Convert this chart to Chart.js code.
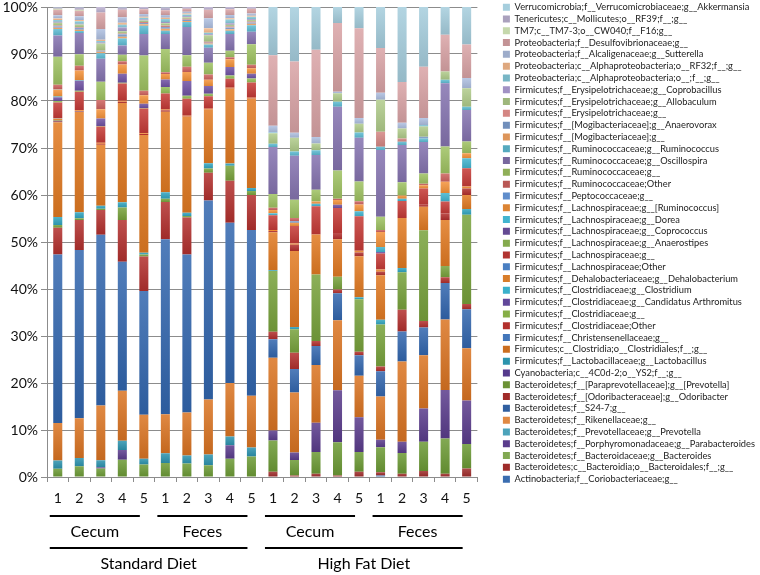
<!DOCTYPE html>
<html>
<head>
<meta charset="utf-8">
<script src="https://cdn.jsdelivr.net/npm/chart.js@4.4.1/dist/chart.umd.min.js"></script>
<style>
  html, body { margin: 0; padding: 0; background: #fff; }
</style>
</head>
<body>
<canvas id="taxaChart" width="760" height="575"></canvas>
<script>
document.addEventListener('DOMContentLoaded', () => {

  // samples on the x axis, and the two grouping rows under them
  const samples = ['1','2','3','4','5','1','2','3','4','5','1','2','3','4','5','1','2','3','4','5'];
  const sites = ['Cecum', 'Feces', 'Cecum', 'Feces'];
  const diets = ['Standard Diet', 'High Fat Diet'];

  // relative abundance (%) per sample, bottom of the stack first
  const coriobacteriaceae   = [0,0,0,0,0, 0,0,0,0,0, 0,0,0,0,0, 0.3,0,0,0,0];
  const bacteroidales       = [0,0,0,0,0, 0,0,0,0,0, 1.1,0.3,0.7,0.3,1.1, 0.7,0.7,1.3,0.7,1.8];
  const bacteroides         = [1.8,2.3,1.8,3.7,2.7, 3.0,2.9,2.5,3.9,4.4, 6.6,3.3,4.6,7.1,4.2, 5.3,4.4,6.2,7.5,5.2];
  const parabacteroides     = [0,0,0.3,2.1,0, 0,0,0,2.9,0, 2.1,1.6,6.2,11.0,7.4, 1.6,2.4,7.1,10.3,9.3];
  const prevotella          = [1.8,1.8,1.5,2.0,1.2, 2.1,1.7,2.3,1.9,1.9, 0,0,0,0,0, 0,0,0,0,0];
  const rikenellaceae       = [8.1,8.6,11.7,10.8,9.4, 8.4,9.2,11.7,11.5,11.1, 15.4,12.8,12.3,14.9,8.8, 9.2,17.0,11.3,15.0,11.1];
  const s24_7               = [36.6,36.3,36.6,27.8,26.5, 37.6,33.8,42.4,34.4,35.5, 3.9,5.0,4.0,5.7,4.4, 5.4,6.4,5.9,7.8,8.3];
  const odoribacter         = [5.8,6.5,5.3,9.0,7.4, 8.0,7.9,5.9,9.0,7.5, 1.6,3.5,1.1,0.8,0.7, 1.0,4.6,1.4,1.2,1.1];
  const paraprevotella      = [0.6,0.4,0.3,2.7,0.4, 0.7,0.3,0.9,3.2,0.9, 12.8,5.0,14.1,2.7,11.2, 8.9,8.0,19.3,2.4,19.0];
  const cyanobacteria       = [0,0,0,0,0, 0,0,0,0,0, 0,0,0,0,0, 0,0,0,0,0];
  const lactobacillus       = [1.7,1.3,0.6,1.1,0.4, 1.4,0.7,1.1,0.5,0.6, 0.2,0.5,0,0,0.4, 1.0,0.9,0,0,1.2];
  const clostridiales       = [20.6,21.6,13.1,21.4,25.2, 17.3,20.6,11.5,16.1,19.2, 8.0,16.2,8.5,8.0,8.7, 9.5,10.6,5.0,9.8,3.0];
  const christensenellaceae = [0.1,0.1,0,0,0, 0,0,0,0,0, 0,0,0,0,0, 0,0,0,0,0];
  const clostridiaceaeOther = [0.2,0.1,0.2,0.3,0.2, 0.3,0.2,0.2,0.2,0.2, 0.3,1.3,0,1.3,0.8, 0.7,0,0.4,1.4,1.4];
  const clostridiaceaeG     = [0.1,0,0,0,0, 0,0,0,0,0, 0,0,0,0,0, 0,0,0,0,0];
  const arthromitus         = [0,0,0,0,0, 0,0,0,0,0, 0,0,0,0,0, 0,0,0,0,0];
  const clostridium         = [0.1,0,0,0,0, 0,0,0,0,0, 0,0,0,0,0, 0,0,0,0,0];
  const dehalobacterium     = [0.3,0.2,0.2,0.2,0.2, 0.2,0.1,0.1,0.1,0.1, 0.2,0.3,0,0,0.4, 0.5,0,0,0,0.4];
  const lachnoOther         = [0.1,0,0,0,0, 0,0,0,0,0, 0,0,0,0,0, 0,0,0,0,0];
  const lachnoG             = [3.4,4.0,3.5,3.7,5.3, 3.4,3.5,2.5,1.8,3.1, 3.1,3.7,6.0,5.3,7.3, 3.4,3.6,3.5,2.5,3.9];
  const anaerostipes        = [0.3,0.2,0.1,0.2,0.1, 1.4,0.6,0.5,0.7,0.9, 0,0,0,0,0, 0,0,0,0,0];
  const coprococcus         = [0.8,2.2,1.6,1.9,0.9, 1.6,3.2,1.7,1.8,1.0, 0,0,0,0.7,0, 0.3,0,0,0,0];
  const dorea               = [0.2,0.1,0,0,0, 0,0,0,0,0, 0.4,0,0.5,0,1.1, 1.1,0.5,0,1.8,2.1];
  const lachnoRuminococcus  = [1.5,2.1,2.0,2.0,1.8, 1.2,1.9,1.3,1.7,1.2, 0.7,0.7,0.5,1.0,1.4, 3.2,0.7,0.7,2.4,1.1];
  const peptococcaceae      = [0.1,0,0,0,0, 0,0,0,0,0, 0,0.3,0,0,0, 0,0,0,0,0];
  const ruminoOther         = [0.9,1.0,2.0,0.7,1.0, 0.4,1.1,1.1,0.4,0.7, 0.5,0.7,0,0.3,0.7, 0.4,0,0.3,1.8,0];
  const ruminoG             = [6.1,2.5,3.9,1.4,7.5, 5.0,2.5,2.5,1.4,4.4, 2.9,3.9,2.5,6.0,4.2, 2.8,2.8,2.2,5.7,2.5];
  const oscillospira        = [4.6,4.6,4.9,2.0,4.6, 3.2,6.0,3.2,3.6,2.7, 9.9,9.4,7.4,13.5,9.3, 14.2,7.9,6.7,13.5,6.7];
  const ruminococcus        = [1.4,0.4,1.2,1.5,1.8, 0.7,1.1,0.7,0.7,1.4, 0.7,0.9,1.0,1.1,1.1, 0.7,0.7,0.7,0.7,0.7];
  const mogibacteriaceaeG   = [0.3,0.3,0.3,0.4,0.3, 0.4,0.2,0.2,0.3,0.3, 0,0,0,0,0, 0,0,0,0,0];
  const anaerovorax         = [0.3,0.4,0.2,0.5,0.3, 0.4,0.3,0.2,0.4,0.3, 0,0,0,0,0, 0,0,0.4,0,0];
  const erysipelotrichaceaeG= [0.2,0.2,0.1,0.2,0.2, 0.3,0.2,0.2,0.2,0.2, 0,0,0,0,0, 3.2,0.7,0,0,0];
  const allobaculum         = [0.6,0.5,1.5,0.5,0.3, 0.5,0.3,1.4,0.4,0.3, 2.2,2.9,1.4,1.8,1.9, 6.8,2.1,2.2,1.8,3.9];
  const coprobacillus       = [0.2,0.2,0.2,0.8,0.2, 0.3,0.2,0.2,0.3,0.2, 0,0,0,0,0, 0,0,0,0,0];
  const alphaproteo         = [0.4,0.5,0.3,0.6,0.4, 0.6,0.4,0.3,0.8,0.5, 0.2,0,0,0,0, 0,0,0.3,0,0];
  const rf32                = [0.3,0.3,0.3,0.4,0.2, 0.3,0.2,1.0,0.3,0.2, 0,0,0,0,0, 0,0,0,0,0];
  const sutterella          = [0.7,0.8,2.3,1.2,0.6, 0.6,0.4,2.1,0.7,0.5, 1.4,1.1,1.4,0.3,1.2, 1.5,1.2,1.5,0,2.2];
  const desulfovibrionaceae = [1.2,1.2,3.5,1.6,1.0, 1.0,0.6,1.8,1.2,1.0, 14.9,15.2,18.5,14.6,19.1, 9.5,8.7,10.9,7.8,7.1];
  const tm7                 = [0.2,0.2,0,0,0, 0,0,0,0,0, 0,0,0,0,0, 0,0,0,0,0];
  const tenericutes         = [0.3,0.5,1.2,0.5,0.5, 0.6,0.4,0.6,0.5,0.4, 0,0,0,0,0, 0,0,0,0,0];
  const akkermansia         = [0.1,0.1,0,0.1,0, 0.1,0,0,0,0, 10.2,11.6,9.1,3.4,4.5, 8.7,15.9,12.7,5.9,8.0];

  const taxa = [
    'Actinobacteria;f__Coriobacteriaceae;g__',
    'Bacteroidetes;c__Bacteroidia;o__Bacteroidales;f__;g__',
    'Bacteroidetes;f__Bacteroidaceae;g__Bacteroides',
    'Bacteroidetes;f__Porphyromonadaceae;g__Parabacteroides',
    'Bacteroidetes;f__Prevotellaceae;g__Prevotella',
    'Bacteroidetes;f__Rikenellaceae;g__',
    'Bacteroidetes;f__S24-7;g__',
    'Bacteroidetes;f__[Odoribacteraceae];g__Odoribacter',
    'Bacteroidetes;f__[Paraprevotellaceae];g__[Prevotella]',
    'Cyanobacteria;c__4C0d-2;o__YS2;f__;g__',
    'Firmicutes;f__Lactobacillaceae;g__Lactobacillus',
    'Firmicutes;c__Clostridia;o__Clostridiales;f__;g__',
    'Firmicutes;f__Christensenellaceae;g__',
    'Firmicutes;f__Clostridiaceae;Other',
    'Firmicutes;f__Clostridiaceae;g__',
    'Firmicutes;f__Clostridiaceae;g__Candidatus Arthromitus',
    'Firmicutes;f__Clostridiaceae;g__Clostridium',
    'Firmicutes;f__Dehalobacteriaceae;g__Dehalobacterium',
    'Firmicutes;f__Lachnospiraceae;Other',
    'Firmicutes;f__Lachnospiraceae;g__',
    'Firmicutes;f__Lachnospiraceae;g__Anaerostipes',
    'Firmicutes;f__Lachnospiraceae;g__Coprococcus',
    'Firmicutes;f__Lachnospiraceae;g__Dorea',
    'Firmicutes;f__Lachnospiraceae;g__[Ruminococcus]',
    'Firmicutes;f__Peptococcaceae;g__',
    'Firmicutes;f__Ruminococcaceae;Other',
    'Firmicutes;f__Ruminococcaceae;g__',
    'Firmicutes;f__Ruminococcaceae;g__Oscillospira',
    'Firmicutes;f__Ruminococcaceae;g__Ruminococcus',
    'Firmicutes;f__[Mogibacteriaceae];g__',
    'Firmicutes;f__[Mogibacteriaceae];g__Anaerovorax',
    'Firmicutes;f__Erysipelotrichaceae;g__',
    'Firmicutes;f__Erysipelotrichaceae;g__Allobaculum',
    'Firmicutes;f__Erysipelotrichaceae;g__Coprobacillus',
    'Proteobacteria;c__Alphaproteobacteria;o__;f__;g__',
    'Proteobacteria;c__Alphaproteobacteria;o__RF32;f__;g__',
    'Proteobacteria;f__Alcaligenaceae;g__Sutterella',
    'Proteobacteria;f__Desulfovibrionaceae;g__',
    'TM7;c__TM7-3;o__CW040;f__F16;g__',
    'Tenericutes;c__Mollicutes;o__RF39;f__;g__',
    'Verrucomicrobia;f__Verrucomicrobiaceae;g__Akkermansia'
  ];

  const series = [
    coriobacteriaceae, bacteroidales, bacteroides, parabacteroides, prevotella,
    rikenellaceae, s24_7, odoribacter, paraprevotella, cyanobacteria,
    lactobacillus, clostridiales, christensenellaceae, clostridiaceaeOther, clostridiaceaeG,
    arthromitus, clostridium, dehalobacterium, lachnoOther, lachnoG,
    anaerostipes, coprococcus, dorea, lachnoRuminococcus, peptococcaceae,
    ruminoOther, ruminoG, oscillospira, ruminococcus, mogibacteriaceaeG,
    anaerovorax, erysipelotrichaceaeG, allobaculum, coprobacillus, alphaproteo,
    rf32, sutterella, desulfovibrionaceae, tm7, tenericutes, akkermansia
  ];

  const colors = [
    '#3a6db0', '#9e2b2a', '#6c9a35', '#5a3c8c', '#2c93ae',
    '#da7422', '#3266ae', '#b2302e', '#78a23c', '#553a8c',
    '#31a4c0', '#e27a22', '#4376ba', '#b3302d', '#86ae46',
    '#61479a', '#3ab0cb', '#f08b30', '#4a7fc2', '#c53a36',
    '#93bd55', '#6f52a3', '#42b4cf', '#f4933a', '#5f8dcb',
    '#cd625e', '#9fc262', '#8573b0', '#5ebcd3', '#f6a564',
    '#7e9fd0', '#d48683', '#b0cb8a', '#a192c4', '#85cadb',
    '#f7bb8d', '#aebfe0', '#d9a3a5', '#c5d8ac', '#bdb3d2',
    '#a6cedd'
  ];

  // 100% stacked: each sample scaled to its own total
  const totals = samples.map((_, i) => series.reduce((s, arr) => s + arr[i], 0));
  const shares = series.map(arr => arr.map((v, i) => v / totals[i] * 100));

  function shade(hex, amt) {
    const n = parseInt(hex.slice(1), 16);
    const mix = c => Math.round(amt >= 0 ? c + (255 - c) * amt : c * (1 + amt));
    return `rgb(${mix(n >> 16)},${mix((n >> 8) & 255)},${mix(n & 255)})`;
  }

  // each segment lighter at its top, darker at its base
  function segmentFill(ctx) {
    const base = colors[ctx.datasetIndex];
    if (ctx.type !== 'data') return base;
    const y = ctx.chart.scales.y;
    const i = ctx.dataIndex;
    let bottom = 0;
    for (let d = 0; d < ctx.datasetIndex; d++) bottom += shares[d][i];
    const top = bottom + shares[ctx.datasetIndex][i];
    const y0 = y.getPixelForValue(top), y1 = y.getPixelForValue(bottom);
    if (!isFinite(y0) || !isFinite(y1) || y1 - y0 < 1) return base;
    const g = ctx.chart.ctx.createLinearGradient(0, y0, 0, y1);
    g.addColorStop(0, shade(base, 0.15));
    g.addColorStop(1, shade(base, -0.1));
    return g;
  }

  const groupLabels = {
    id: 'groupLabels',
    afterDraw(chart) {
      const { ctx, scales: { x } } = chart;
      ctx.save();
      ctx.strokeStyle = '#000';
      ctx.lineWidth = 2;
      ctx.fillStyle = '#000';
      ctx.font = '16px Lato';
      ctx.textAlign = 'center';
      ctx.textBaseline = 'middle';
      const row = (names, size, lineY, textY) => {
        names.forEach((name, g) => {
          const x0 = x.getPixelForValue(g * size) - 8;
          const x1 = x.getPixelForValue(g * size + size - 1) - 4;
          ctx.beginPath();
          ctx.moveTo(x0, lineY);
          ctx.lineTo(x1, lineY);
          ctx.stroke();
          ctx.fillText(name, (x0 + x1) / 2, textY);
        });
      };
      row(sites, 5, 516, 532);
      row(diets, 10, 548, 564);
      ctx.restore();
    }
  };

  const ctx = document.getElementById('taxaChart').getContext('2d');

  new Chart(ctx, {
    type: 'bar',
    data: {
      labels: samples,
      datasets: taxa.map((name, k) => ({
        label: name,
        data: shares[k],
        backgroundColor: segmentFill,
        borderWidth: 0,
        barPercentage: 0.42,
        categoryPercentage: 1
      }))
    },
    options: {
      responsive: false,
      animation: false,
      layout: { padding: { top: 0, bottom: 0, left: 0, right: -5 } },
      plugins: {
        tooltip: { enabled: false },
        legend: {
          position: 'right',
          align: 'start',
          reverse: true,
          maxWidth: 280,
          labels: {
            boxWidth: 7,
            boxHeight: 7,
            padding: 2.5,
            color: '#222',
            font: { family: 'Lato', size: 9.3 }
          }
        }
      },
      scales: {
        x: {
          stacked: true,
          grid: { display: true, drawOnChartArea: false, offset: true, tickLength: 5, color: '#8c8c8c' },
          border: { color: '#8c8c8c' },
          ticks: { color: '#111', font: { family: 'Lato', size: 14 }, padding: 8, maxRotation: 0 },
          afterFit(s) { s.height = 98; }
        },
        y: {
          stacked: true,
          min: 0,
          max: 100,
          ticks: { stepSize: 10, color: '#111', font: { family: 'Lato', size: 14 }, padding: 3,
                   callback: v => v + '%' },
          grid: { color: '#8c8c8c', tickLength: 6 },
          border: { color: '#8c8c8c' },
          afterFit(s) { s.width = 47; s.paddingTop = 7; }
        },
        gap: {
          type: 'linear',
          position: 'right',
          grid: { display: false },
          border: { display: false },
          ticks: { display: false },
          afterFit(s) { s.width = 23; }
        }
      }
    },
    plugins: [groupLabels]
  });

});
</script>
</body>
</html>
